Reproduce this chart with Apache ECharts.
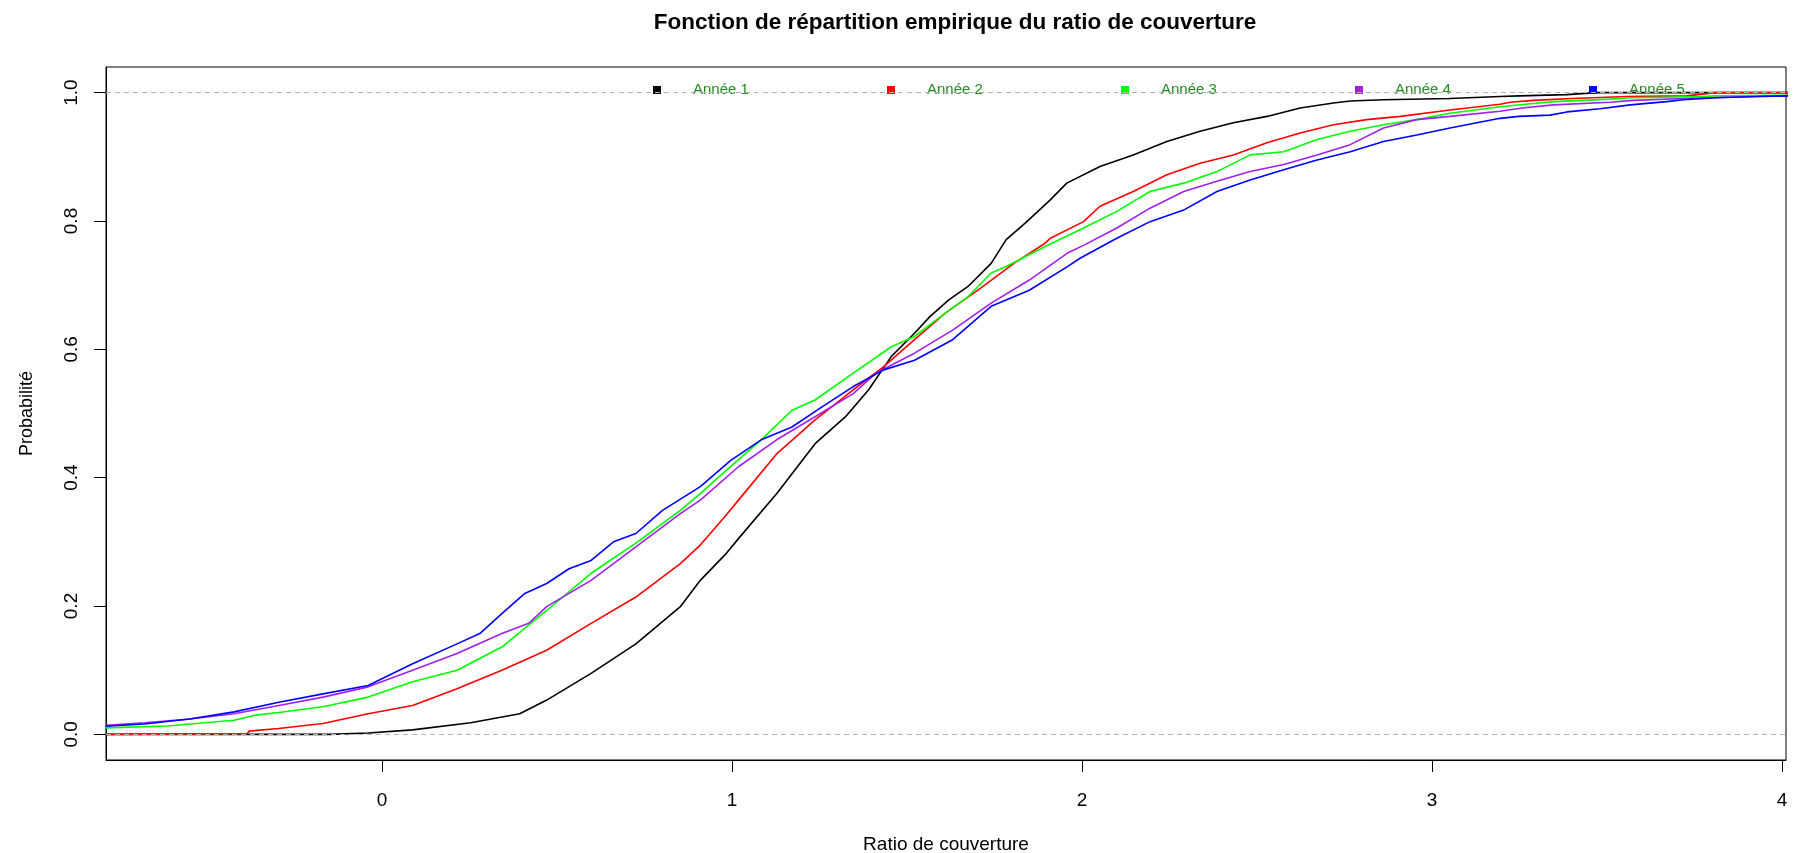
<!DOCTYPE html>
<html>
<head>
<meta charset="utf-8">
<script src="https://cdn.jsdelivr.net/npm/echarts@6/dist/echarts.min.js"></script>
<style>
html,body{margin:0;padding:0;background:#fff;}
#chart{width:1803px;height:853px;}
</style>
</head>
<body>
<div id="chart"></div>
<script>
const seriesNames = ["Année 1", "Année 2", "Année 3", "Année 4", "Année 5"];
const seriesColors = ["#000000", "#FF0000", "#00FF00", "#A020F0", "#0000FF"];
const xTicks = [0, 1, 2, 3, 4];
const yTicks = [0, 0.2, 0.4, 0.6, 0.8, 1.0];
const refLines = [0, 1];

const annee1 = [
  [-0.79,0],[-0.15,0],[-0.04,0.002],[0.087,0.007],[0.253,0.018],[0.393,0.032],[0.469,0.053],
  [0.597,0.095],[0.725,0.141],[0.852,0.199],[0.909,0.240],[0.98,0.28],[1.018,0.305],[1.127,0.375],
  [1.237,0.453],[1.324,0.495],[1.39,0.537],[1.455,0.589],[1.521,0.625],[1.565,0.651],[1.619,0.677],
  [1.674,0.698],[1.74,0.734],[1.783,0.771],[1.838,0.797],[1.909,0.833],[1.956,0.859],[2.051,0.885],
  [2.146,0.903],[2.242,0.924],[2.337,0.94],[2.432,0.953],[2.528,0.963],[2.623,0.976],[2.718,0.984],
  [2.766,0.987],[2.861,0.989],[3.05,0.991],[3.194,0.994],[3.248,0.995],[3.385,0.997],[3.47,1.0],[4.02,1.0]
];
const annee2 = [
  [-0.79,0],[-0.386,0.001],[-0.38,0.005],[-0.296,0.009],[-0.169,0.017],[-0.04,0.032],[0.087,0.045],
  [0.214,0.071],[0.342,0.1],[0.47,0.131],[0.597,0.173],[0.725,0.214],[0.852,0.266],[0.909,0.295],
  [0.98,0.34],[1.018,0.365],[1.127,0.437],[1.237,0.49],[1.346,0.537],[1.433,0.573],[1.521,0.615],
  [1.608,0.656],[1.717,0.698],[1.805,0.734],[1.893,0.765],[1.909,0.773],[2.004,0.799],[2.051,0.823],
  [2.146,0.846],[2.242,0.872],[2.337,0.89],[2.432,0.903],[2.528,0.922],[2.623,0.937],[2.718,0.95],
  [2.813,0.958],[2.909,0.963],[3.051,0.973],[3.194,0.982],[3.223,0.985],[3.29,0.988],[3.4,0.991],
  [3.556,0.994],[3.728,0.995],[3.81,1.0],[4.02,1.0]
];
const annee3 = [
  [-0.79,0.010],[-0.614,0.013],[-0.423,0.022],[-0.36,0.030],[-0.296,0.034],[-0.169,0.043],[-0.04,0.058],
  [0.087,0.082],[0.214,0.1],[0.342,0.136],[0.47,0.193],[0.597,0.251],[0.725,0.298],[0.852,0.349],
  [0.909,0.375],[0.974,0.407],[1.083,0.459],[1.171,0.505],[1.237,0.521],[1.346,0.563],[1.455,0.604],
  [1.521,0.62],[1.608,0.656],[1.674,0.682],[1.74,0.719],[1.783,0.729],[1.893,0.76],[2.004,0.789],
  [2.099,0.815],[2.194,0.846],[2.29,0.859],[2.385,0.877],[2.48,0.903],[2.576,0.908],[2.671,0.927],
  [2.766,0.94],[2.861,0.95],[2.956,0.958],[3.051,0.968],[3.194,0.978],[3.267,0.982],[3.347,0.986],
  [3.509,0.99],[3.566,0.992],[3.766,0.994],[3.813,0.995],[4.02,0.996]
];
const annee4 = [
  [-0.79,0.014],[-0.678,0.018],[-0.55,0.024],[-0.423,0.032],[-0.295,0.045],[-0.169,0.058],[-0.04,0.074],
  [0.087,0.1],[0.214,0.126],[0.342,0.157],[0.419,0.173],[0.47,0.199],[0.597,0.24],[0.725,0.292],
  [0.852,0.344],[0.909,0.365],[1.018,0.417],[1.127,0.459],[1.237,0.495],[1.346,0.531],[1.411,0.563],
  [1.521,0.594],[1.63,0.63],[1.74,0.672],[1.849,0.708],[1.958,0.75],[2.004,0.762],[2.099,0.789],
  [2.194,0.82],[2.29,0.846],[2.385,0.862],[2.48,0.877],[2.576,0.888],[2.671,0.903],[2.766,0.919],
  [2.861,0.945],[2.956,0.958],[3.051,0.963],[3.194,0.971],[3.257,0.976],[3.347,0.981],[3.509,0.985],
  [3.575,0.988],[3.717,0.991],[3.909,0.994],[4.02,0.995]
];
const annee5 = [
  [-0.79,0.0125],[-0.678,0.016],[-0.55,0.024],[-0.423,0.035],[-0.295,0.05],[-0.169,0.063],[-0.04,0.076],
  [0.087,0.11],[0.214,0.141],[0.279,0.157],[0.342,0.188],[0.406,0.219],[0.47,0.235],[0.534,0.258],
  [0.597,0.271],[0.661,0.3],[0.725,0.313],[0.801,0.349],[0.909,0.386],[0.996,0.427],[1.083,0.459],
  [1.171,0.479],[1.259,0.511],[1.346,0.542],[1.433,0.568],[1.521,0.583],[1.63,0.615],[1.74,0.667],
  [1.849,0.692],[1.958,0.729],[1.994,0.742],[2.099,0.773],[2.194,0.799],[2.29,0.817],[2.385,0.846],
  [2.48,0.864],[2.576,0.88],[2.671,0.895],[2.766,0.908],[2.861,0.924],[2.956,0.934],[3.051,0.945],
  [3.194,0.96],[3.248,0.963],[3.337,0.965],[3.385,0.97],[3.48,0.975],[3.566,0.981],[3.67,0.986],
  [3.718,0.989],[3.813,0.992],[3.937,0.994],[4.02,0.995]
];
const seriesData = [annee1, annee2, annee3, annee4, annee5];

const FONT = '"Liberation Sans", Arial, sans-serif';
const chart = echarts.init(document.getElementById('chart'), null, {renderer: 'canvas'});

const series = seriesNames.map((name, i) => ({
  name: name,
  type: 'line',
  data: seriesData[i],
  showSymbol: false,
  symbol: 'none',
  lineStyle: {color: seriesColors[i], width: 1.6},
  itemStyle: {color: seriesColors[i]},
  animation: false,
  z: 3 + i
}));
series.push({
  name: 'ref',
  type: 'line',
  data: [],
  markLine: {
    silent: true,
    symbol: ['none', 'none'],
    label: {show: false},
    lineStyle: {color: '#B3B3B3', type: [5, 4], width: 1},
    data: refLines.map(v => ({yAxis: v}))
  },
  z: 1
});

chart.setOption({
  backgroundColor: '#ffffff',
  animation: false,
  textStyle: {fontFamily: FONT},
  graphic: [{
    type: 'text',
    x: 955, y: 23,
    style: {
      text: 'Fonction de répartition empirique du ratio de couverture',
      font: 'bold 22.5px ' + FONT,
      fill: '#000',
      textAlign: 'center',
      textVerticalAlign: 'middle'
    }
  }],
  legend: {
    data: seriesNames,
    left: 653,
    top: 82,
    padding: 0,
    itemGap: 136,
    itemWidth: 8,
    itemHeight: 8,
    icon: 'rect',
    textStyle: {
      color: '#228B22',
      fontSize: 15,
      fontFamily: FONT,
      width: 58,
      lineHeight: 16,
      padding: [0, 0, 0, 27]
    }
  },
  grid: {
    left: 106, right: 17, top: 67, bottom: 93,
    outerBoundsMode: 'none',
    containLabel: false,
    show: true, borderColor: '#000', borderWidth: 1, backgroundColor: 'transparent'
  },
  xAxis: {
    type: 'value',
    min: -0.789, max: 4.011,
    name: 'Ratio de couverture',
    nameLocation: 'middle',
    nameGap: 75,
    nameTextStyle: {fontSize: 19, color: '#000', fontFamily: FONT},
    axisLine: {show: true, onZero: false, lineStyle: {color: '#000'}},
    splitLine: {show: false},
    axisTick: {show: true, length: 12, lineStyle: {color: '#000'}, customValues: xTicks},
    axisLabel: {show: true, margin: 31, fontSize: 19, color: '#000', fontFamily: FONT, customValues: xTicks,
      formatter: v => String(v)}
  },
  yAxis: {
    type: 'value',
    min: -0.04, max: 1.04,
    name: 'Probabilité',
    nameLocation: 'middle',
    nameGap: 70,
    nameTextStyle: {fontSize: 18, color: '#000', fontFamily: FONT},
    axisLine: {show: true, onZero: false, lineStyle: {color: '#000'}},
    splitLine: {show: false},
    axisTick: {show: true, length: 12, lineStyle: {color: '#000'}, customValues: yTicks},
    axisLabel: {show: true, margin: 25, fontSize: 19, color: '#000', fontFamily: FONT, rotate: 90, customValues: yTicks,
      formatter: v => Number(v).toFixed(1)}
  },
  series: series
});
</script>
</body>
</html>
